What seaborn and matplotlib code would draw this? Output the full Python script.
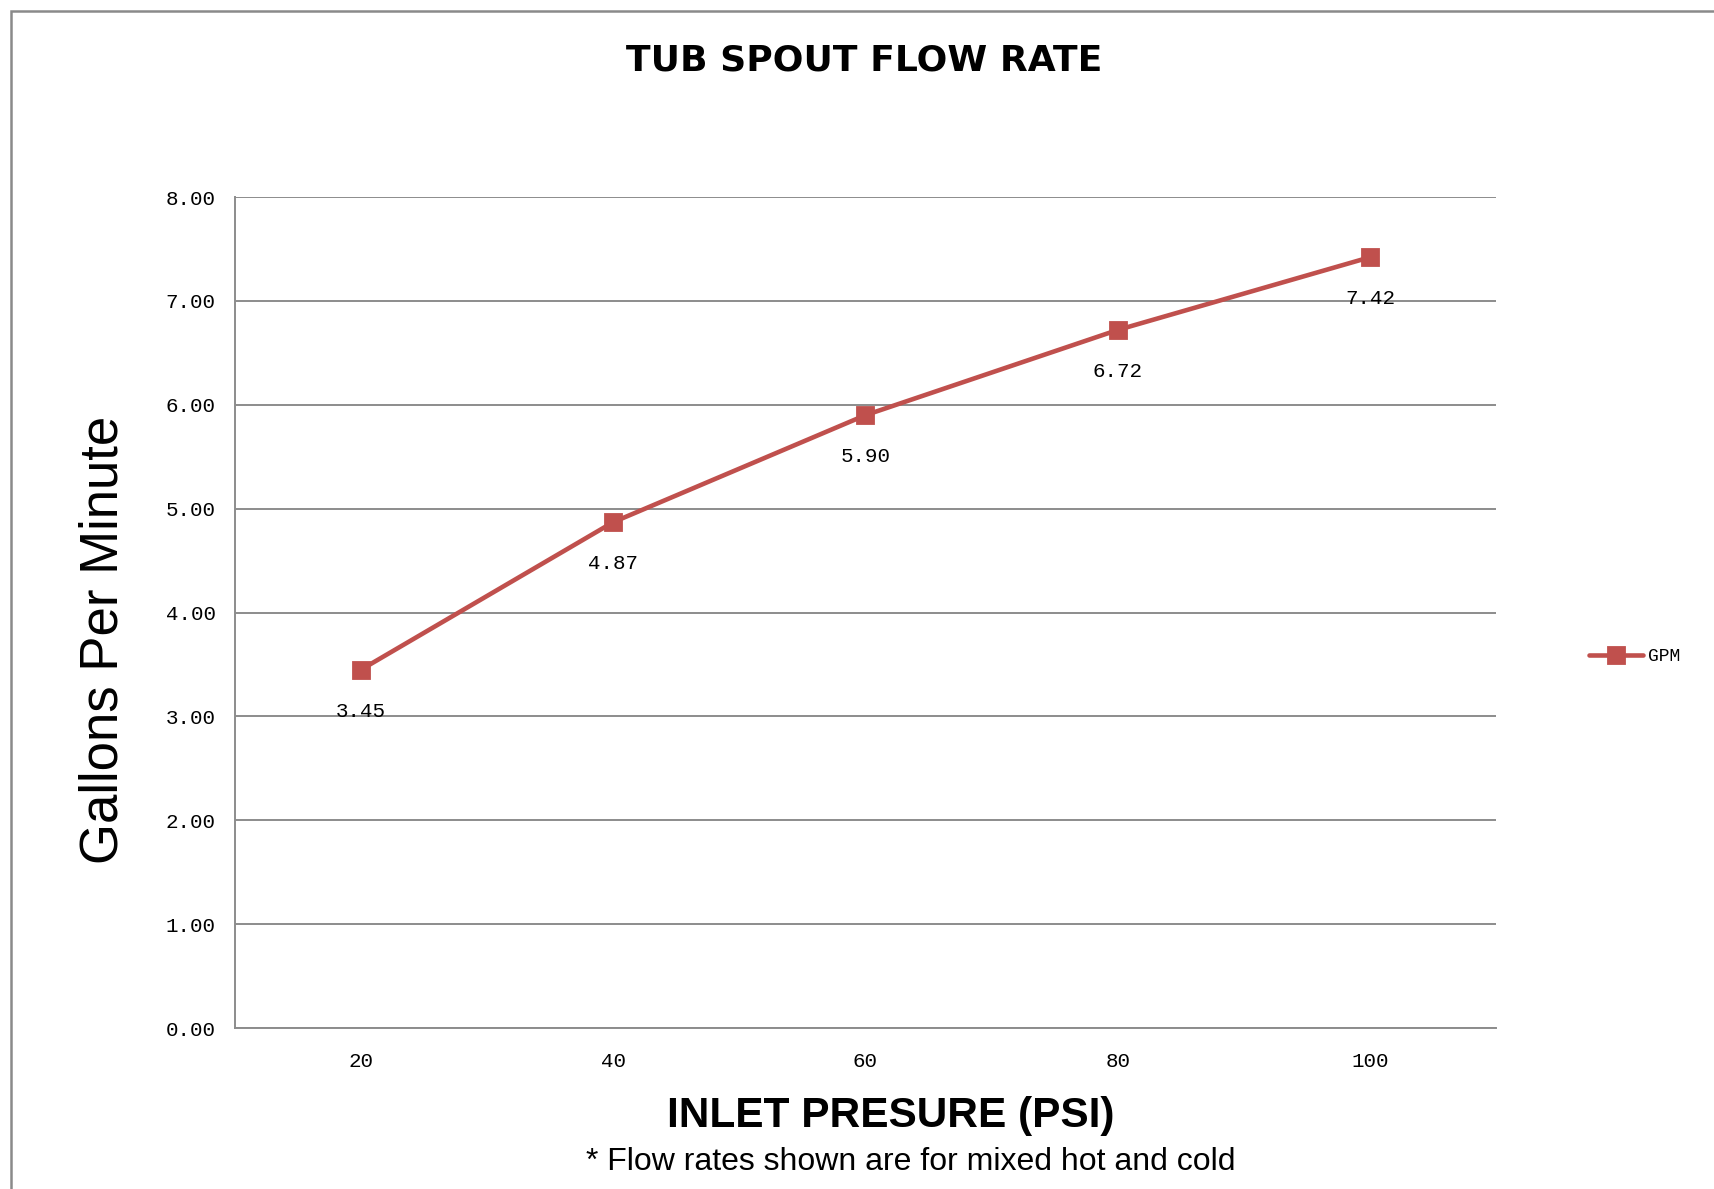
import numpy as np
import pandas as pd
import seaborn as sns
import matplotlib.pyplot as plt
from matplotlib.patches import Rectangle

# data
pressure = ["20", "40", "60", "80", "100"]
gpm = [3.45, 4.87, 5.90, 6.72, 7.42]
y_ticks = [0, 1, 2, 3, 4, 5, 6, 7, 8]

df = pd.DataFrame({"pressure": pressure, "gpm": gpm})

sns.set_style("white")
plt.rcParams["font.family"] = ["Liberation Mono", "DejaVu Sans"]
plt.rcParams["text.color"] = "black"
plt.rcParams["xtick.color"] = "black"
plt.rcParams["ytick.color"] = "black"

red = "#C0504D"
grid_gray = "#8C8C8C"

fig = plt.figure(figsize=(17.15, 11.89), dpi=100)
ax = fig.add_axes([0.137, 0.1354, 0.7353, 0.6989])

sns.pointplot(
    data=df,
    x="pressure",
    y="gpm",
    color=red,
    markers="s",
    linestyles="-",
    errorbar=None,
    label="GPM",
    ax=ax,
)
for line in ax.lines:
    line.set_linewidth(3.3)
    line.set_markersize(12)
    line.set_markeredgecolor(red)

# data labels under each point
for i, v in enumerate(gpm):
    ax.annotate(f"{v:.2f}", (i, v), xytext=(0, -30), textcoords="offset points",
                ha="center", va="center", fontsize=15, color="black")

ax.set_xlim(-0.5, len(pressure) - 0.5)
ax.set_ylim(0, 8)
ax.set_yticks(y_ticks)
ax.set_yticklabels([f"{t:.2f}" for t in y_ticks])
ax.yaxis.grid(True, color=grid_gray, linewidth=1.4)
ax.xaxis.grid(False)
ax.set_axisbelow(True)
ax.tick_params(axis="y", length=0, pad=14, labelsize=15, labelcolor="black")
ax.tick_params(axis="x", length=0, pad=17, labelsize=15, labelcolor="black")
ax.set_xlabel("")
ax.set_ylabel("")

for side in ["top", "right"]:
    ax.spines[side].set_visible(False)
for side in ["left", "bottom"]:
    ax.spines[side].set_color(grid_gray)
    ax.spines[side].set_linewidth(1.4)

leg = ax.legend(loc="center left", bbox_to_anchor=(0.917, 0.448), bbox_transform=fig.transFigure,
                frameon=False, fontsize=13, handlelength=3.0, handletextpad=0.3)
for t in leg.get_texts():
    t.set_color("black")

# titles and labels
fig.text(0.504, 0.9495, "TUB SPOUT FLOW RATE", ha="center", va="center",
         fontsize=26, fontweight="bold", family=["DejaVu Sans"], color="black")
fig.text(0.0606, 0.4617, "Gallons Per Minute", ha="center", va="center", rotation=90,
         fontsize=38, family=["Liberation Sans"], color="black")
fig.text(0.5195, 0.0614, "INLET PRESURE (PSI)", ha="center", va="center",
         fontsize=30.5, fontweight="bold", family=["Liberation Sans"], color="black")
fig.text(0.531, 0.0227, "* Flow rates shown are for mixed hot and cold", ha="center", va="center",
         fontsize=23, family=["Liberation Sans"], color="black")

# outer chart border
fig.patches.append(Rectangle((11 / 1715, -0.1), 1.2, 1 - 11 / 1189 + 0.1, transform=fig.transFigure,
                             fill=False, edgecolor="#8A8A8A", linewidth=1.8))

plt.savefig("out.png", dpi=100)
